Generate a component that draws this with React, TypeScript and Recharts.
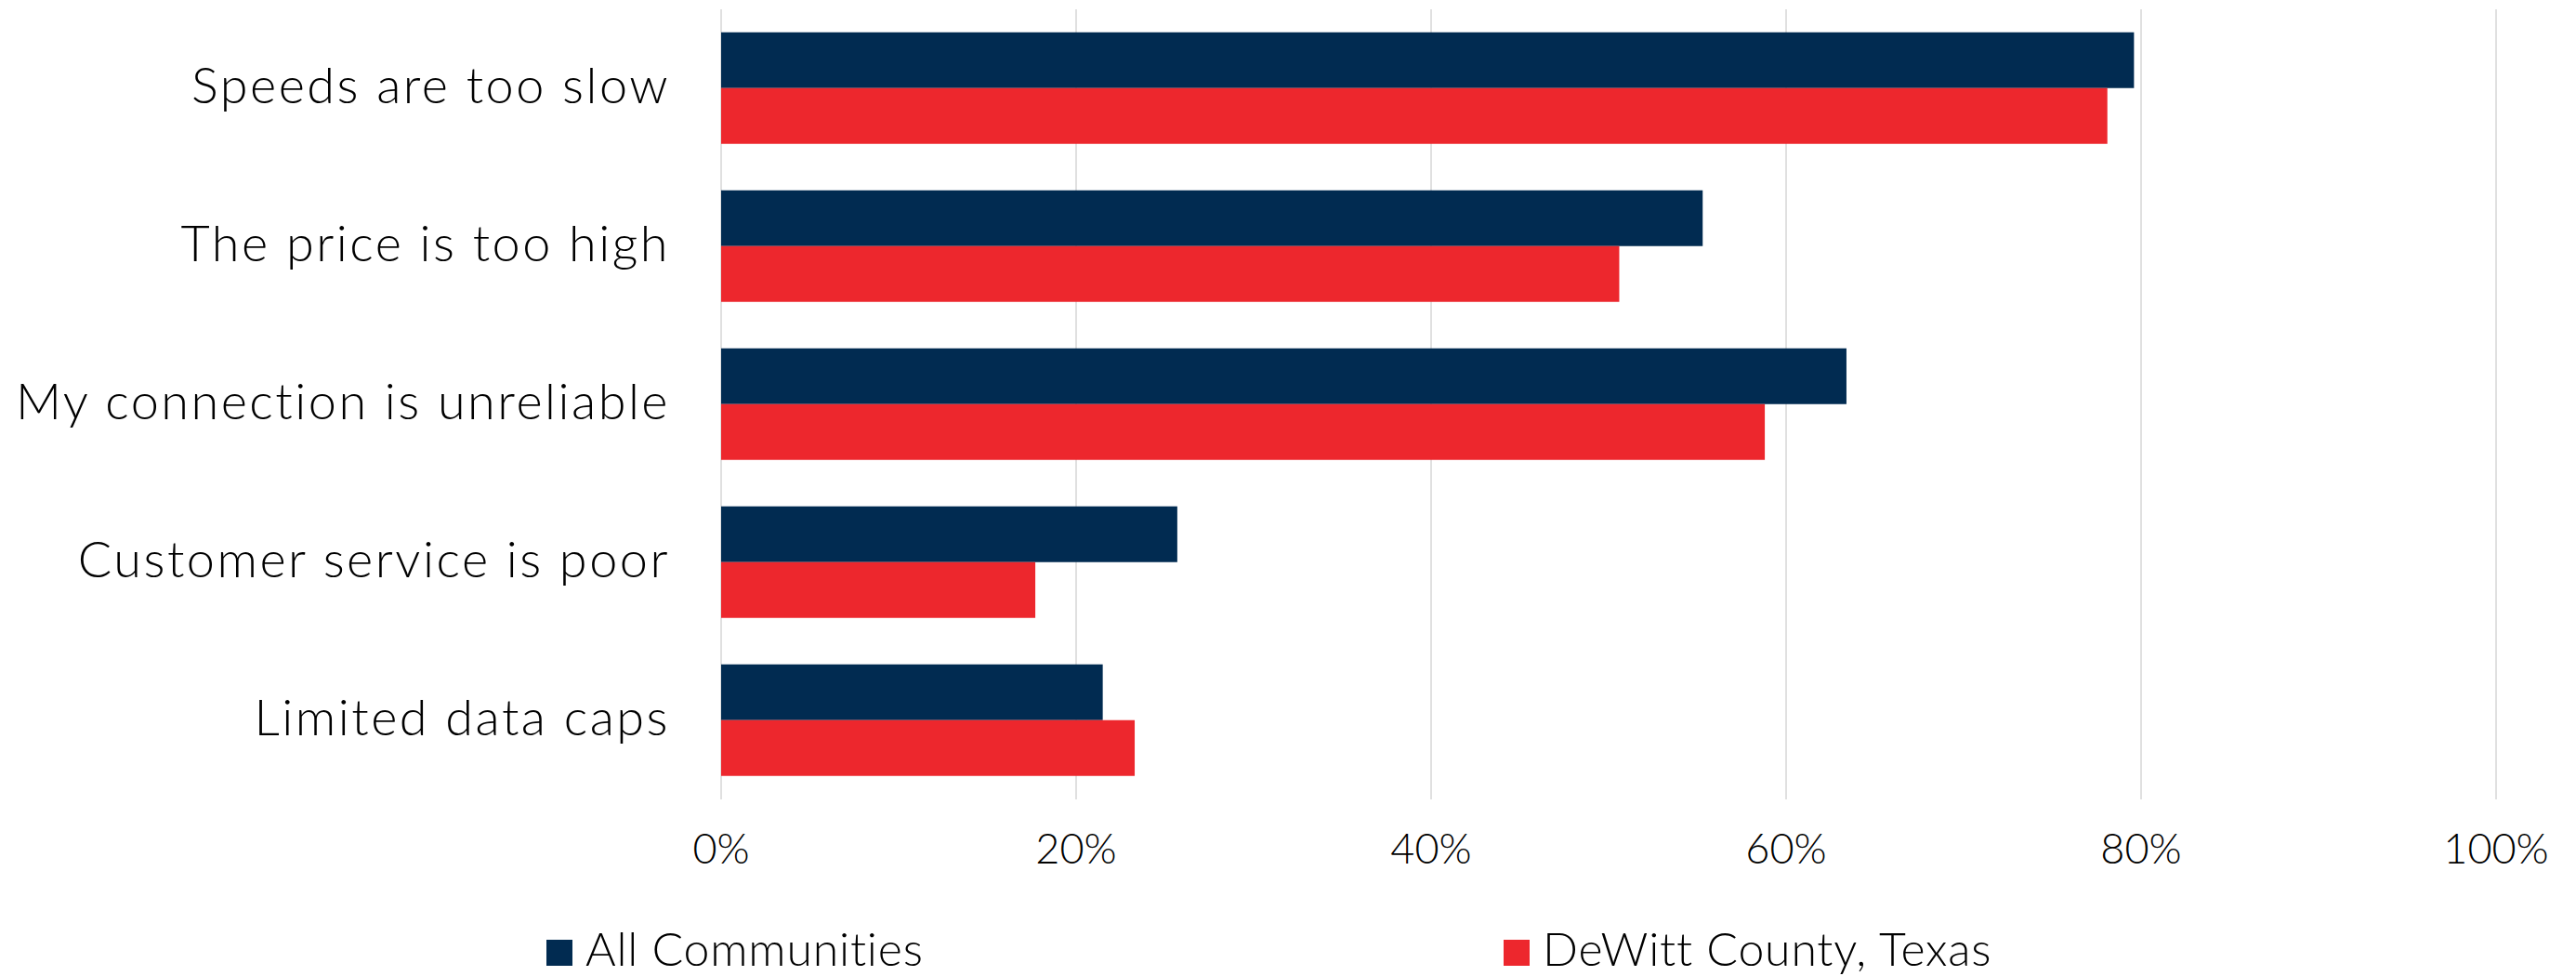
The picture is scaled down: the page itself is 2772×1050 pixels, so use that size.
import React from "react";
import {
  BarChart,
  Bar,
  XAxis,
  YAxis,
  CartesianGrid,
  Legend,
} from "recharts";

const categories = [
  "Speeds are too slow",
  "The price is too high",
  "My connection is unreliable",
  "Customer service is poor",
  "Limited data caps",
];
const allCommunities = [79.6, 55.3, 63.4, 25.7, 21.5];
const dewittCounty = [78.1, 50.6, 58.8, 17.7, 23.3];
const xTicks = [0, 20, 40, 60, 80, 100];

const NAVY = "#012b51";
const RED = "#ed272d";
const FONT = "Lato, 'Open Sans', sans-serif";

const data = categories.map((name, i) => ({
  name,
  all: allCommunities[i],
  dewitt: dewittCounty[i],
}));

const legendItems = [
  { label: "All Communities", color: NAVY, left: 588 },
  { label: "DeWitt County, Texas", color: RED, left: 1618 },
];

function LegendContent() {
  return (
    <div style={{ position: "relative", width: 2772, height: 60 }}>
      {legendItems.map((it) => (
        <div
          key={it.label}
          style={{
            position: "absolute",
            left: it.left,
            top: 0,
            display: "flex",
            alignItems: "center",
            fontFamily: FONT,
            fontSize: 50,
            fontWeight: 300,
            letterSpacing: 0.8,
            color: "#000",
            lineHeight: "60px",
          }}
        >
          <span
            style={{
              width: 28,
              height: 28,
              background: it.color,
              marginRight: 14,
              marginTop: 10,
              display: "inline-block",
            }}
          />
          {it.label}
        </div>
      ))}
    </div>
  );
}

export default function App() {
  return (
    <div style={{ width: 2772, height: 1050, background: "#fff" }}>
      <style>{`body{margin:0}`}</style>
      <BarChart
        width={2772}
        height={1050}
        data={data}
        layout="vertical"
        margin={{ top: 10, right: 86, bottom: 0, left: 0 }}
        barGap={0}
        barCategoryGap="14.5%"
      >
        <CartesianGrid horizontal={false} stroke="#e0e0e0" strokeWidth={2} />
        <XAxis
          type="number"
          domain={[0, 100]}
          ticks={xTicks}
          tickFormatter={(v) => `${v}%`}
          axisLine={false}
          tickLine={false}
          tickMargin={31}
          height={130}
          tick={{ fill: "#000", fontSize: 45, fontFamily: FONT, fontWeight: 300 }}
        />
        <YAxis
          type="category"
          dataKey="name"
          width={776}
          axisLine={false}
          tickLine={false}
          tickMargin={49}
          tick={{
            fill: "#000",
            fontSize: 54,
            fontFamily: FONT,
            fontWeight: 300,
            letterSpacing: 2.5,
            dy: -3,
          }}
        />
        <Legend
          content={<LegendContent />}
          wrapperStyle={{ position: "absolute", left: 0, top: 990, width: 2772 }}
        />
        <Bar dataKey="all" name="All Communities" fill={NAVY} isAnimationActive={false} />
        <Bar dataKey="dewitt" name="DeWitt County, Texas" fill={RED} isAnimationActive={false} />
      </BarChart>
    </div>
  );
}
